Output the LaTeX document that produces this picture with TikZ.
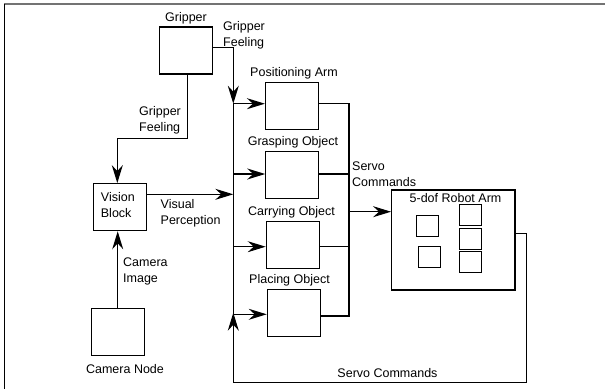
\documentclass[tikz,border=0pt]{standalone}
\usepackage{fontspec}
\setmainfont{Liberation Sans}
\usetikzlibrary{arrows.meta}
\begin{document}
\begin{tikzpicture}[x=1pt,y=-1pt,
  box/.style={draw, line width=1.2pt, inner sep=0pt},
  blk/.style={box, minimum width=53pt, minimum height=47pt},
  part/.style={box, line width=1.4pt, minimum width=22pt, minimum height=21pt},
  lbl/.style={inner sep=0pt, font=\fontsize{12.5}{16}\selectfont, align=left},
  conn/.style={line width=1.2pt},
  arr/.style={conn, -{Stealth[length=18pt,width=11pt,inset=6pt]}}]
  \useasboundingbox (0,0) rectangle (605,389);
  % frame edges
  \draw[line width=1.6pt, black!55] (4,4) -- (605,4);
  \draw[line width=1.3pt] (4.5,4) -- (4.5,389);

  % blocks
  \node[blk] (grip) at (185.8,50.4) {};
  \node[blk] (vis)  at (119.7,207.2) {};
  \node[blk] (cam)  at (117.7,332) {};
  \node[blk] (pos)  at (292,105.7) {};
  \node[blk] (grasp) at (292.3,174.8) {};
  \node[blk] (carry) at (292.8,245) {};
  \node[blk] (place) at (293.8,313.3) {};
  \node[box, minimum width=123.3pt, minimum height=100pt] (robot) at (453.3,240) {};
  \node[part] (s1) at (427.3,226.2) {};
  \node[part] (s2) at (429.5,256.7) {};
  \node[part] (c1) at (470.5,215) {};
  \node[part] (c2) at (470.5,238.7) {};
  \node[part] (c3) at (470.5,261.8) {};

  % labels
  \node[lbl, anchor=base] (tGrip) at (186,21.5) {Gripper};
  \node[lbl, anchor=north west] (tGF1) at (223,21) {Gripper\\Feeling};
  \node[lbl, anchor=north west] (tGF2) at (139,106) {Gripper\\Feeling};
  \node[lbl, anchor=north west] (tVis) at (100.7,192) {Vision\\Block};
  \node[lbl, anchor=north west] (tVP) at (160.5,199) {Visual\\Perception};
  \node[lbl, anchor=north west] (tCI) at (123,258) {Camera\\Image};
  \node[lbl, anchor=base] (tCam) at (125,373) {Camera Node};
  \node[lbl, anchor=base] (tPos) at (294,76) {Positioning Arm};
  \node[lbl, anchor=base] (tGrasp) at (293,145) {Grasping Object};
  \node[lbl, anchor=base] (tCarry) at (291.5,215) {Carrying Object};
  \node[lbl, anchor=base] (tPlace) at (289.5,283) {Placing Object};
  \node[lbl, anchor=north west] (tSC1) at (352,162) {Servo\\Commands};
  \node[lbl, anchor=base] (tRobot) at (455.5,202) {5-dof Robot Arm};
  \node[lbl, anchor=base] (tSC2) at (387.5,377) {Servo Commands};

  % left bus junctions
  \coordinate (b1) at (233.3,103.7);
  \coordinate (b2) at (233.3,174);
  \coordinate (bv) at (233.3,194.3);
  \coordinate (b3) at (233.3,246.7);
  \coordinate (b4) at (233.3,314.3);
  \coordinate (bup) at (233.3,312.7);
  % right bus junctions
  \coordinate (r1) at (349,103.3);
  \coordinate (r2) at (349,174);
  \coordinate (rr) at (349,211.7);
  \coordinate (r3) at (349,246.7);
  \coordinate (r4) at (349,316);
  % feedback loop corners
  \coordinate (f1) at (526.7,233.3);
  \coordinate (f2) at (526.7,382.7);
  \coordinate (f3) at (233.3,382.7);

  % gripper feeling into the bus and into vision
  \draw[arr] (grip.east |- 0,47.3) -| (b1);
  \draw[arr] (grip.south -| 187.7,0) -- (187.7,138.3) -| (vis.north -| 117.3,0);
  % camera image into vision
  \draw[arr] (cam.north -| 117.7,0) -- (vis.south -| 117.7,0);
  % visual perception into the bus
  \draw[arr] (vis.east |- bv) -- (bv);
  % left bus
  \draw[conn] (b1) -- (b4);
  \draw[arr] (b1) -- (pos.west |- b1);
  \draw[arr] (b2) -- (grasp.west |- b2);
  \draw[arr] (b3) -- (carry.west |- b3);
  \draw[arr] (b4) -- (place.west |- b4);
  % servo commands bus
  \draw[conn] (pos.east |- r1) -- (r1) -- (r4) -- (place.east |- r4);
  \draw[conn] (grasp.east |- r2) -- (r2);
  \draw[conn] (carry.east |- r3) -- (r3);
  \draw[arr] (rr) -- (robot.west |- rr);
  % feedback servo commands
  \draw[arr] (robot.east |- f1) -- (f1) -- (f2) -- (f3) -- (bup);
\end{tikzpicture}
\end{document}
